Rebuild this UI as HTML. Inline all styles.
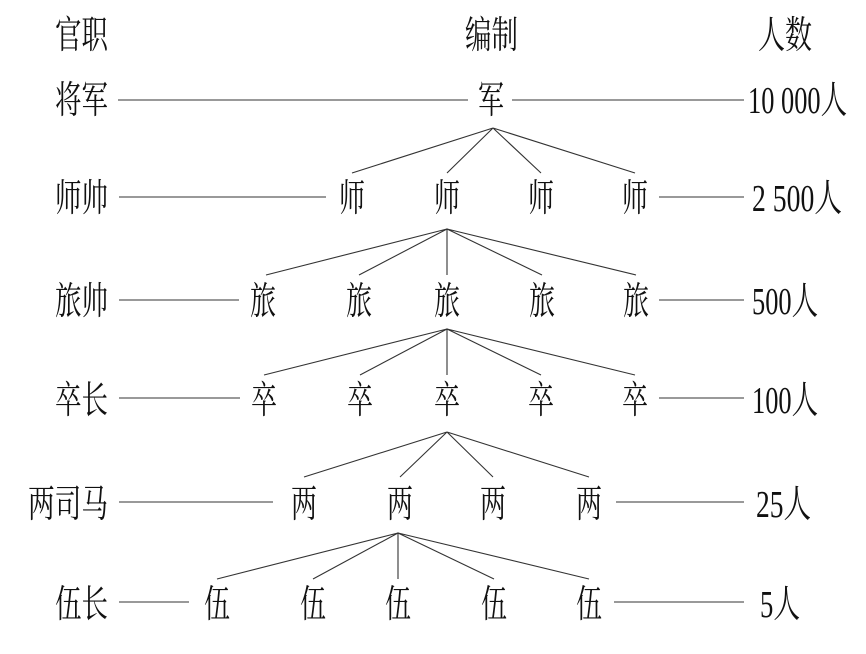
<!DOCTYPE html>
<html><head><meta charset="utf-8"><style>
html,body{margin:0;padding:0;background:#fff;width:866px;height:654px;overflow:hidden}
svg text{font-family:"Liberation Serif","Noto Serif CJK SC",serif;font-size:38px;fill:#111}
</style></head><body>
<svg width="866" height="654" viewBox="0 0 866 654" xmlns="http://www.w3.org/2000/svg">
<g stroke="#333" stroke-width="1.1" fill="none">
<line x1="118" y1="100" x2="468" y2="100"/><line x1="512" y1="100" x2="744" y2="100"/>
<line x1="119" y1="197" x2="326" y2="197"/><line x1="659" y1="197" x2="744" y2="197"/>
<line x1="119" y1="300" x2="239" y2="300"/><line x1="659" y1="300" x2="744" y2="300"/>
<line x1="119" y1="398" x2="240" y2="398"/><line x1="659" y1="398" x2="744" y2="398"/>
<line x1="119" y1="502" x2="273" y2="502"/><line x1="616" y1="502" x2="744" y2="502"/>
<line x1="119" y1="602" x2="189" y2="602"/><line x1="614" y1="602" x2="744" y2="602"/>
<path d="M493 128L352 173M493 128L447 173M493 128L541 173M493 128L635 173"/>
<path d="M447 229L266 275M447 229L359 275M447 229L447 275M447 229L542 275M447 229L636 275"/>
<path d="M447 329L264 375M447 329L360 375M447 329L447 375M447 329L541 375M447 329L635 375"/>
<path d="M447 432L304 477M447 432L400 477M447 432L493 477M447 432L589 477"/>
<path d="M398 533L217 579M398 533L313 579M398 533L398 579M398 533L494 579M398 533L589 579"/>
</g>
<g>
<text x="55" y="48" textLength="53" lengthAdjust="spacingAndGlyphs">官职</text>
<text x="465" y="48" textLength="53" lengthAdjust="spacingAndGlyphs">编制</text>
<text x="758" y="48" textLength="54" lengthAdjust="spacingAndGlyphs">人数</text>

<text x="55" y="113" textLength="53" lengthAdjust="spacingAndGlyphs">将军</text>
<text x="478" y="113" textLength="26" lengthAdjust="spacingAndGlyphs">军</text>
<text x="748" y="113" textLength="99" lengthAdjust="spacingAndGlyphs">10 000人</text>

<text x="55" y="211" textLength="53" lengthAdjust="spacingAndGlyphs">师帅</text>
<text x="339" y="211" textLength="26" lengthAdjust="spacingAndGlyphs">师</text>
<text x="434" y="211" textLength="26" lengthAdjust="spacingAndGlyphs">师</text>
<text x="528" y="211" textLength="26" lengthAdjust="spacingAndGlyphs">师</text>
<text x="622" y="211" textLength="26" lengthAdjust="spacingAndGlyphs">师</text>
<text x="752" y="211" textLength="90" lengthAdjust="spacingAndGlyphs">2 500人</text>

<text x="55" y="314" textLength="53" lengthAdjust="spacingAndGlyphs">旅帅</text>
<text x="250" y="314" textLength="26" lengthAdjust="spacingAndGlyphs">旅</text>
<text x="346" y="314" textLength="26" lengthAdjust="spacingAndGlyphs">旅</text>
<text x="434" y="314" textLength="26" lengthAdjust="spacingAndGlyphs">旅</text>
<text x="529" y="314" textLength="26" lengthAdjust="spacingAndGlyphs">旅</text>
<text x="623" y="314" textLength="26" lengthAdjust="spacingAndGlyphs">旅</text>
<text x="752" y="314" textLength="66" lengthAdjust="spacingAndGlyphs">500人</text>

<text x="55" y="413" textLength="53" lengthAdjust="spacingAndGlyphs">卒长</text>
<text x="251" y="413" textLength="26" lengthAdjust="spacingAndGlyphs">卒</text>
<text x="347" y="413" textLength="26" lengthAdjust="spacingAndGlyphs">卒</text>
<text x="434" y="413" textLength="26" lengthAdjust="spacingAndGlyphs">卒</text>
<text x="528" y="413" textLength="26" lengthAdjust="spacingAndGlyphs">卒</text>
<text x="622" y="413" textLength="26" lengthAdjust="spacingAndGlyphs">卒</text>
<text x="752" y="413" textLength="66" lengthAdjust="spacingAndGlyphs">100人</text>

<text x="28" y="517" textLength="80" lengthAdjust="spacingAndGlyphs">两司马</text>
<text x="291" y="517" textLength="26" lengthAdjust="spacingAndGlyphs">两</text>
<text x="387" y="517" textLength="26" lengthAdjust="spacingAndGlyphs">两</text>
<text x="480" y="517" textLength="26" lengthAdjust="spacingAndGlyphs">两</text>
<text x="576" y="517" textLength="26" lengthAdjust="spacingAndGlyphs">两</text>
<text x="756" y="517" textLength="55" lengthAdjust="spacingAndGlyphs">25人</text>

<text x="55" y="617" textLength="53" lengthAdjust="spacingAndGlyphs">伍长</text>
<text x="204" y="617" textLength="26" lengthAdjust="spacingAndGlyphs">伍</text>
<text x="300" y="617" textLength="26" lengthAdjust="spacingAndGlyphs">伍</text>
<text x="385" y="617" textLength="26" lengthAdjust="spacingAndGlyphs">伍</text>
<text x="481" y="617" textLength="26" lengthAdjust="spacingAndGlyphs">伍</text>
<text x="576" y="617" textLength="26" lengthAdjust="spacingAndGlyphs">伍</text>
<text x="760" y="617" textLength="40" lengthAdjust="spacingAndGlyphs">5人</text>
</g>
</svg>
</body></html>
